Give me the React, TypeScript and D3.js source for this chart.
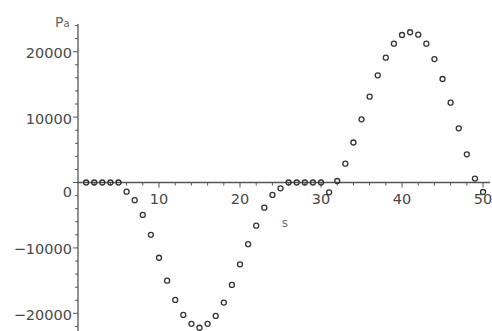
import React from 'react';
import * as d3 from 'd3';

// s (x) and Pa (y)
const sValues = [
  1, 2, 3, 4, 5, 6, 7, 8, 9, 10, 11, 12, 13, 14, 15, 16, 17, 18, 19, 20, 21, 22, 23, 24, 25,
  26, 27, 28, 29, 30, 31, 32, 33, 34, 35, 36, 37, 38, 39, 40, 41, 42, 43, 44, 45, 46, 47, 48, 49, 50,
];
const paValues = [
  0, 0, 0, 0, 0, -1400, -2700, -4950, -8000, -11500, -15000, -17950, -20250, -21600, -22200,
  -21600, -20400, -18350, -15650, -12500, -9420, -6600, -3850, -1900, -880,
  0, 0, 0, 0, 0, -1500, 230, 2880, 6120, 9660, 13120, 16390, 19080, 21220, 22550,
  22970, 22600, 21220, 18880, 15830, 12200, 8290, 4310, 600, -1450,
];
const xTickLabels = [10, 20, 30, 40, 50];
const yTickLabels = [-20000, -10000, 0, 10000, 20000];

const W = 492;
const H = 331;

export default function App() {
  const x = d3.scaleLinear().domain([0, 50.86]).range([78, 490]);
  const y = d3.scaleLinear().domain([-22700, 24235]).range([331, 24]);

  const xMinor = d3.range(2, 51, 2);
  const yMinor = d3.range(-22000, 24001, 2000);
  const axisColor = '#555';
  const textColor = '#484848';

  return (
    <svg
      width={W}
      height={H}
      style={{ position: 'fixed', left: 0, top: 0, background: '#fff' }}
      fontFamily="DejaVu Sans, sans-serif"
    >
      {/* y axis */}
      <line x1={x(0)} x2={x(0)} y1={y.range()[1]} y2={H} stroke={axisColor} strokeWidth={1.3} />
      {yMinor.map((t) => (
        <line
          key={'ym' + t}
          x1={x(0) - (t % 10000 === 0 ? 5 : 3)}
          x2={x(0)}
          y1={y(t)}
          y2={y(t)}
          stroke={axisColor}
          strokeWidth={1}
        />
      ))}
      {yTickLabels.map((t) => (
        <text
          key={'yl' + t}
          x={x(0) - 6}
          y={y(t) + (t === 0 ? 10 : 2.5)}
          textAnchor="end"
          dominantBaseline="middle"
          fontSize={14.5}
          fill={textColor}
        >
          {t < 0 ? '\u2212' + Math.abs(t) : t}
        </text>
      ))}
      <text x={55} y={27} fontSize={14} fill="#666">
        P<tspan fontSize={10}>a</tspan>
      </text>

      {/* x axis */}
      <line x1={x(0)} x2={x.range()[1]} y1={y(0)} y2={y(0)} stroke={axisColor} strokeWidth={1.3} />
      {xMinor.map((t) => (
        <line
          key={'xm' + t}
          x1={x(t)}
          x2={x(t)}
          y1={y(0)}
          y2={y(0) + (t % 10 === 0 ? 5 : 3)}
          stroke={axisColor}
          strokeWidth={1}
        />
      ))}
      {xTickLabels.map((t) => (
        <text
          key={'xl' + t}
          x={x(t)}
          y={y(0) + 17}
          textAnchor="middle"
          dominantBaseline="middle"
          fontSize={14.5}
          fill={textColor}
        >
          {t}
        </text>
      ))}
      <text x={285} y={223} textAnchor="middle" dominantBaseline="middle" fontSize={12} fill="#777">
        s
      </text>

      {/* points */}
      {sValues.map((s, i) => (
        <circle
          key={'p' + s}
          cx={x(s)}
          cy={y(paValues[i])}
          r={2.5}
          fill="none"
          stroke="#333"
          strokeWidth={1.3}
        />
      ))}
    </svg>
  );
}
